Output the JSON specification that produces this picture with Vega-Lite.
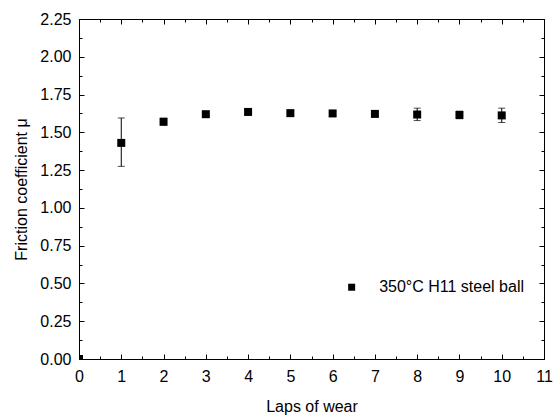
{
  "$schema": "https://vega.github.io/schema/vega-lite/v6.json",
  "width": 465,
  "height": 340,
  "autosize": {"type": "none"},
  "padding": {"left": 79, "top": 19, "right": 11, "bottom": 60},
  "background": "white",
  "config": {
    "view": {"stroke": "black", "strokeWidth": 1},
    "axis": {
      "grid": false,
      "labelFlush": false,
      "labelOverlap": false,
      "domainColor": "black",
      "tickColor": "black",
      "labelColor": "black",
      "titleColor": "black",
      "labelFont": "Liberation Sans",
      "titleFont": "Liberation Sans",
      "labelFontSize": 16,
      "titleFontSize": 16,
      "titleFontWeight": "normal"
    }
  },
  "datasets": {
    "main": [
      {"lap": 1, "mu": 1.43, "lo": 1.275, "hi": 1.595},
      {"lap": 2, "mu": 1.57, "lo": 1.548, "hi": 1.593},
      {"lap": 3, "mu": 1.62, "lo": 1.605, "hi": 1.635},
      {"lap": 4, "mu": 1.635, "lo": 1.618, "hi": 1.652},
      {"lap": 5, "mu": 1.627, "lo": 1.61, "hi": 1.645},
      {"lap": 6, "mu": 1.625, "lo": 1.61, "hi": 1.64},
      {"lap": 7, "mu": 1.622, "lo": 1.602, "hi": 1.642},
      {"lap": 8, "mu": 1.618, "lo": 1.578, "hi": 1.66},
      {"lap": 9, "mu": 1.615, "lo": 1.59, "hi": 1.64},
      {"lap": 10, "mu": 1.612, "lo": 1.565, "hi": 1.66}
    ],
    "origin": [{"lap": 0, "mu": 0}],
    "legend": [{"lap": 6.45, "mu": 0.475, "tx": 7.1, "label": "350°C H11 steel ball"}]
  },
  "resolve": {"axis": {"x": "independent", "y": "independent"}},
  "layer": [
    {
      "data": {"name": "main"},
      "mark": {"type": "rule", "color": "black", "strokeWidth": 1},
      "encoding": {
        "x": {"field": "lap", "type": "quantitative", "scale": {"domain": [0, 11], "nice": false},
          "axis": {"orient": "bottom", "title": "Laps of wear", "values": [0,1,2,3,4,5,6,7,8,9,10,11], "tickSize": -5, "labelPadding": 14, "titlePadding": 14, "format": "d"}},
        "y": {"field": "lo", "type": "quantitative", "scale": {"domain": [0, 2.25], "nice": false, "zero": false},
          "axis": {"orient": "left", "title": "Friction coefficient μ", "values": [0,0.25,0.5,0.75,1,1.25,1.5,1.75,2,2.25], "format": ".2f", "tickSize": -5, "labelPadding": 13, "titlePadding": 10}},
        "y2": {"field": "hi"}
      }
    },
    {
      "data": {"name": "main"},
      "mark": {"type": "tick", "color": "black", "orient": "horizontal", "size": 7, "thickness": 1},
      "encoding": {
        "x": {"field": "lap", "type": "quantitative",
          "axis": {"orient": "top", "title": null, "labels": false, "values": [0,1,2,3,4,5,6,7,8,9,10,11], "tickSize": -5}},
        "y": {"field": "lo", "type": "quantitative",
          "axis": {"orient": "right", "title": null, "labels": false, "values": [0,0.25,0.5,0.75,1,1.25,1.5,1.75,2,2.25], "tickSize": -5}}
      }
    },
    {
      "data": {"name": "main"},
      "mark": {"type": "tick", "color": "black", "orient": "horizontal", "size": 7, "thickness": 1},
      "encoding": {
        "x": {"field": "lap", "type": "quantitative",
          "axis": {"orient": "bottom", "title": null, "labels": false, "domain": false, "values": [0.5,1.5,2.5,3.5,4.5,5.5,6.5,7.5,8.5,9.5,10.5], "tickSize": -3}},
        "y": {"field": "hi", "type": "quantitative",
          "axis": {"orient": "left", "title": null, "labels": false, "domain": false, "values": [0.125,0.375,0.625,0.875,1.125,1.375,1.625,1.875,2.125], "tickSize": -3}}
      }
    },
    {
      "data": {"name": "main"},
      "mark": {"type": "square", "color": "black", "opacity": 1, "size": 64},
      "encoding": {
        "x": {"field": "lap", "type": "quantitative",
          "axis": {"orient": "top", "title": null, "labels": false, "domain": false, "values": [0.5,1.5,2.5,3.5,4.5,5.5,6.5,7.5,8.5,9.5,10.5], "tickSize": -3}},
        "y": {"field": "mu", "type": "quantitative",
          "axis": {"orient": "right", "title": null, "labels": false, "domain": false, "values": [0.125,0.375,0.625,0.875,1.125,1.375,1.625,1.875,2.125], "tickSize": -3}}
      }
    },
    {
      "data": {"name": "origin"},
      "mark": {"type": "square", "color": "black", "opacity": 1, "size": 64, "clip": true},
      "encoding": {
        "x": {"field": "lap", "type": "quantitative", "axis": null},
        "y": {"field": "mu", "type": "quantitative", "axis": null}
      }
    },
    {
      "data": {"name": "legend"},
      "mark": {"type": "square", "color": "black", "opacity": 1, "size": 49},
      "encoding": {
        "x": {"field": "lap", "type": "quantitative", "axis": null},
        "y": {"field": "mu", "type": "quantitative", "axis": null}
      }
    },
    {
      "data": {"name": "legend"},
      "mark": {"type": "text", "align": "left", "baseline": "middle", "font": "Liberation Sans", "fontSize": 16, "color": "black"},
      "encoding": {
        "x": {"field": "tx", "type": "quantitative", "axis": null},
        "y": {"field": "mu", "type": "quantitative", "axis": null},
        "text": {"field": "label"}
      }
    }
  ]
}
